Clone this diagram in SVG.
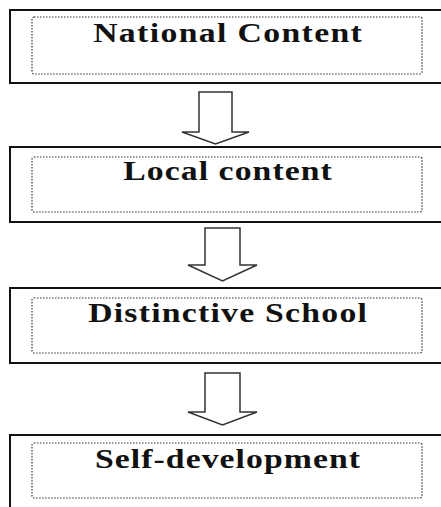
<svg xmlns="http://www.w3.org/2000/svg" width="441" height="507" viewBox="0 0 441 507">
<style>
.outer{fill:#fff;stroke:#111;stroke-width:2}
.inner{fill:none;stroke:#333;stroke-width:1.2;stroke-dasharray:1.5 1.5}
.lbl{font-family:'Liberation Serif','Times New Roman','DejaVu Serif',serif;font-weight:700;font-size:27px;fill:#111;text-anchor:middle}
.arrow{fill:#fff;stroke:#333;stroke-width:1.5;stroke-linejoin:miter}
</style>
<rect width="441" height="507" fill="#fff"/>
<g id="connectors">
<polygon class="arrow" points="199,92 232,92 232,132 249,132 215.5,144 182,132 199,132"/>
<polygon class="arrow" points="205,228 240,228 240,265 257,265 222.5,281 188,265 205,265"/>
<polygon class="arrow" points="205,373 240,373 240,412 257,412 222.5,425 188,412 205,412"/>
</g>
<g id="national">
<rect class="outer" x="10" y="10" width="450" height="73"/>
<rect class="inner" x="32" y="17" width="390" height="57" rx="2"/>
<text class="lbl" transform="translate(227.5,41.5) scale(1.25,1)" textLength="215" lengthAdjust="spacing">National Content</text>
</g>
<g id="local">
<rect class="outer" x="10" y="147" width="450" height="75"/>
<rect class="inner" x="32" y="157" width="390" height="55" rx="2"/>
<text class="lbl" transform="translate(227.5,180) scale(1.25,1)" textLength="167" lengthAdjust="spacing">Local content</text>
</g>
<g id="distinctive">
<rect class="outer" x="10" y="288" width="450" height="75"/>
<rect class="inner" x="32" y="298" width="390" height="55" rx="2"/>
<text class="lbl" transform="translate(227.5,322) scale(1.25,1)" textLength="223" lengthAdjust="spacing">Distinctive School</text>
</g>
<g id="self">
<rect class="outer" x="10" y="435" width="450" height="100"/>
<rect class="inner" x="32" y="443" width="390" height="55" rx="2"/>
<text class="lbl" transform="translate(227.5,468) scale(1.25,1)" textLength="212" lengthAdjust="spacing">Self-development</text>
</g>
</svg>
